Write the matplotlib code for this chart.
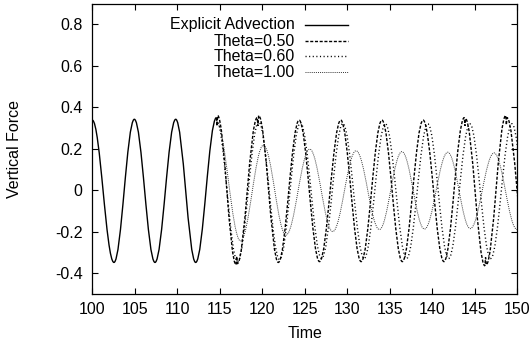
import matplotlib

matplotlib.use("Agg")
import matplotlib.pyplot as plt
from matplotlib.lines import Line2D
from matplotlib.patches import PathPatch
from matplotlib.path import Path

plt.rcParams["font.family"] = ["Liberation Sans", "DejaVu Sans"]
plt.rcParams["axes.unicode_minus"] = False
plt.rcParams["lines.scale_dashes"] = False

# turning points (peaks / troughs) of each force history
explicit_t = [100.0, 102.55, 104.95, 107.38, 109.82, 112.17, 114.62]
explicit_f = [0.338, -0.349, 0.342, -0.349, 0.342, -0.349, 0.35]

# theta=0.50 shows some jitter at a few of its extremes
theta050_t = [114.62, 114.68, 114.75, 116.93, 117.0, 117.07, 119.42, 119.5, 119.58,
              121.9, 124.35, 126.75, 129.25, 131.65, 134.1, 136.5, 138.95, 141.4,
              143.8, 143.87, 143.93, 146.22, 146.3, 146.38, 148.68, 148.75, 148.82, 151.2]
theta050_f = [0.35, 0.31, 0.36, -0.36, -0.32, -0.355, 0.35, 0.31, 0.36,
              -0.349, 0.338, -0.345, 0.338, -0.345, 0.338, -0.345, 0.338, -0.345,
              0.35, 0.31, 0.345, -0.365, -0.325, -0.36, 0.36, 0.315, 0.35, -0.35]

theta060_t = [114.62, 117.1, 119.6, 122.05, 124.5, 127.0, 129.5, 132.0,
              134.5, 137.0, 139.5, 141.95, 144.45, 146.9, 149.4, 151.85]
theta060_f = [0.34, -0.345, 0.33, -0.335, 0.325, -0.33, 0.322, -0.33,
              0.32, -0.33, 0.32, -0.33, 0.32, -0.33, 0.32, -0.33]

theta100_t = [114.62, 117.45, 120.15, 122.8, 125.6, 128.3, 131.05, 133.8,
              136.45, 139.1, 141.85, 144.5, 147.3, 150.0]
theta100_f = [0.33, -0.245, 0.217, -0.217, 0.198, -0.2, 0.19, -0.19,
              0.186, -0.188, 0.183, -0.186, 0.18, -0.19]

labels = ["Explicit Advection", "Theta=0.50", "Theta=0.60", "Theta=1.00"]
x_ticks = [100, 105, 110, 115, 120, 125, 130, 135, 140, 145, 150]
y_ticks = [-0.4, -0.2, 0.0, 0.2, 0.4, 0.6, 0.8]
y_tick_labels = ["-0.4", "-0.2", "0", "0.2", "0.4", "0.6", "0.8"]


def wave_path(ts, fs, k=0.3634):
    """Smooth curve through turning points (horizontal tangent at each)."""
    verts = [(ts[0], fs[0])]
    codes = [Path.MOVETO]
    for i in range(1, len(ts)):
        dt = ts[i] - ts[i - 1]
        verts += [(ts[i - 1] + k * dt, fs[i - 1]), (ts[i] - k * dt, fs[i]), (ts[i], fs[i])]
        codes += [Path.CURVE4] * 3
    return Path(verts, codes)


styles = [
    dict(color="black", lw=1.0, ls="-"),
    dict(color="black", lw=1.0, ls=(0, (2.2, 1.2))),
    dict(color="black", lw=1.0, ls=(0, (0.8, 1.8))),
    dict(color="#333333", lw=0.7, ls=(0, (0.7, 0.8))),
]
series = [
    (explicit_t, explicit_f),
    (theta050_t, theta050_f),
    (theta060_t, theta060_f),
    (theta100_t, theta100_f),
]

FS = 11.5
fig = plt.figure(figsize=(5.32, 3.47), dpi=100)
ax = fig.add_axes([0.1735, 0.1536, 0.7983, 0.8357])

for (ts, fs), st in zip(series, styles):
    patch = PathPatch(wave_path(ts, fs), fill=False, edgecolor=st["color"],
                      linewidth=st["lw"], linestyle=st["ls"], capstyle="butt")
    ax.add_patch(patch)

ax.set_xlim(100, 150)
ax.set_ylim(-0.5, 0.9)
ax.set_xticks(x_ticks)
ax.set_yticks(y_ticks)
ax.set_yticklabels(y_tick_labels)
ax.tick_params(direction="in", top=True, right=True, length=4, width=0.8, labelsize=FS)
ax.tick_params(axis="x", pad=6)
ax.tick_params(axis="y", pad=7)
for sp in ax.spines.values():
    sp.set_linewidth(0.9)

# gnuplot style key: right aligned text, sample line on the right
row_y = [0.9266, 0.8714, 0.818, 0.7645]
for lab, st, y in zip(labels, styles, row_y):
    ax.text(0.4773, y, lab, transform=ax.transAxes, ha="right", va="center", fontsize=FS)
    ax.add_line(Line2D([0.5008, 0.6022], [y, y], transform=ax.transAxes,
                       color=st["color"], lw=st["lw"], ls=st["ls"]))

fig.text(305 / 532, 1 - 334 / 347, "Time", ha="center", va="center", fontsize=FS)
fig.text(15 / 532, 1 - 148.7 / 347, "Vertical Force", rotation=90,
         ha="center", va="center", fontsize=FS)

fig.savefig("out.png", dpi=100)
plt.close(fig)
